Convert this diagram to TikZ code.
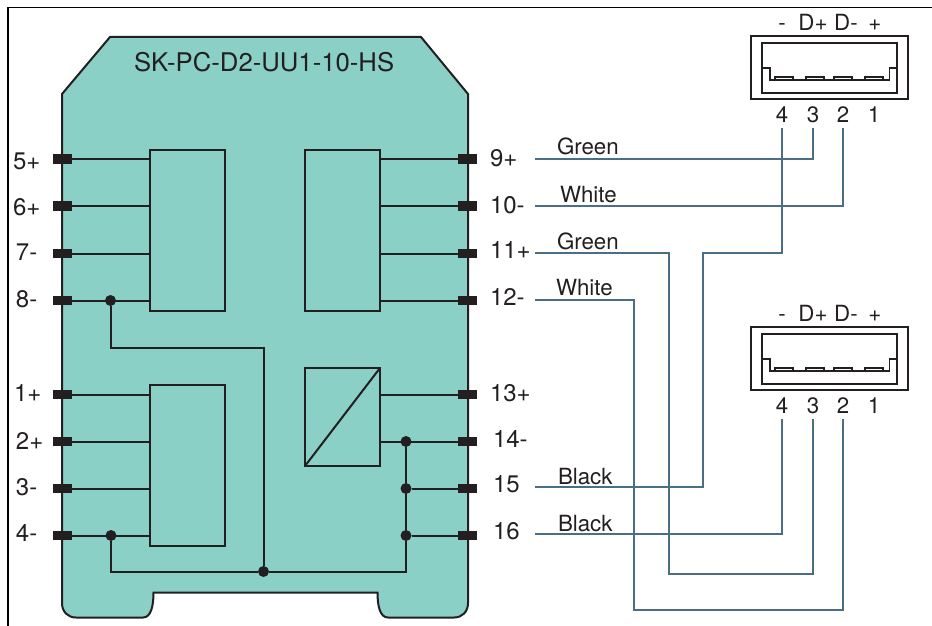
\documentclass[tikz,border=0pt]{standalone}
\usepackage{fontspec}
\setmainfont{TeX Gyre Heros}
\definecolor{ink}{HTML}{231F20}
\definecolor{teal}{HTML}{8AD0C7}
\definecolor{wirec}{HTML}{4A6F85}
\tikzset{
  lbl/.style={anchor=base west,inner sep=0pt,outer sep=0pt,text=ink,font=\fontsize{24}{26}\selectfont},
  ttl/.style={anchor=base west,inner sep=0pt,outer sep=0pt,text=ink,font=\fontsize{25.7}{28}\selectfont},
  wl/.style={anchor=base west,inner sep=0pt,outer sep=0pt,text=ink,font=\fontsize{22.3}{24}\selectfont},
  ul/.style={anchor=base,inner sep=0pt,outer sep=0pt,text=ink,font=\fontsize{22.3}{25}\selectfont},
  pinbox/.style={draw=none,fill=ink,minimum width=19pt,minimum height=9.5pt,inner sep=0pt,outer sep=0pt},
  blockbox/.style={draw=ink,line width=2pt,inner sep=0pt,outer sep=0pt},
  inner/.style={draw=ink,line width=2pt},
  dotn/.style={circle,fill=ink,minimum size=11pt,inner sep=0pt,outer sep=0pt},
  wire/.style={draw=wirec,line width=2pt},
  usbline/.style={draw=ink,line width=1.8pt},
  frameline/.style={draw=black,line width=1.2pt}
}
\begin{document}
\begin{tikzpicture}[x=1pt,y=-1pt]
\useasboundingbox (0,0) rectangle (932,626);
\draw[frameline] (8,626) -- (8,7.5) -- (932,7.5);
% housing
\draw[draw=ink,line width=2pt,fill=teal]
  (110,37) -- (421,37) -- (468,94) -- (468,603)
  .. controls (468,612) and (462,617.5) .. (454,617.5) -- (388,617.5)
  .. controls (380,617.5) and (377.5,606) .. (377.5,592.5) -- (153.5,592.5)
  .. controls (153.5,606) and (151,617.5) .. (143,617.5) -- (76,617.5)
  .. controls (68,617.5) and (62,612) .. (62,603) -- (62,94) -- cycle;
\node[ttl] (title) at (134,71) {SK-PC-D2-UU1-10-HS};
% blocks
\node[blockbox,minimum width=75pt,minimum height=161pt] (bA) at (187,230.5) {};
\node[blockbox,minimum width=75pt,minimum height=161pt] (bB) at (342.5,230.5) {};
\node[blockbox,minimum width=75pt,minimum height=161pt] (bC) at (187,465.5) {};
\node[blockbox,minimum width=75pt,minimum height=98pt] (bD) at (342.5,417) {};
\draw[inner] (bD.south west) -- (bD.north east);
% pins left
\foreach \n/\y in {5/159,6/206,7/253.5,8/300.5,1/394.5,2/441.5,3/488.5,4/535.5}
  \node[pinbox] (p\n) at (62.5,\y) {};
% pins right
\foreach \n/\y in {9/159,10/206,11/253.5,12/300.5,13/394.5,14/441.5,15/488.5,16/535.5}
  \node[pinbox] (p\n) at (467.5,\y) {};
% internal wiring
\foreach \n in {5,6,7,8} \draw[inner] (p\n) -- (p\n -| bA.west);
\foreach \n in {1,2,3,4} \draw[inner] (p\n) -- (p\n -| bC.west);
\foreach \n in {9,10,11,12} \draw[inner] (p\n) -- (p\n -| bB.east);
\foreach \n in {13,14} \draw[inner] (p\n) -- (p\n -| bD.east);
\node[dotn] (d8) at (110.5,300.5) {};
\node[dotn] (d4) at (111,535.5) {};
\node[dotn] (dm) at (263.5,571.5) {};
\node[dotn] (d14) at (406,441.5) {};
\node[dotn] (d15) at (406,488.5) {};
\node[dotn] (d16) at (406,535.5) {};
\coordinate (cm) at (263.5,347.5);
\coordinate (cb) at (406,571.5);
\draw[inner] (d8) |- (cm) -- (dm);
\draw[inner] (d4) |- (dm) -- (cb) -- (d16) -- (d15) -- (d14);
\draw[inner] (d15) -- (p15);
\draw[inner] (d16) -- (p16);
% pin labels
\node[lbl] (l5) at (13,169) {5+};
\node[lbl] (l6) at (13,215.5) {6+};
\node[lbl] (l7) at (16,260.5) {7-};
\node[lbl] (l8) at (16,307.5) {8-};
\node[lbl] (l1) at (14,401) {1+};
\node[lbl] (l2) at (16,449) {2+};
\node[lbl] (l3) at (16,495) {3-};
\node[lbl] (l4) at (16,541) {4-};
\node[lbl] (l9) at (490,166) {9+};
\node[lbl] (l10) at (490,213) {10-};
\node[lbl] (l11) at (490,258) {11+};
\node[lbl] (l12) at (490,305) {12-};
\node[lbl] (l13) at (490,401) {13+};
\node[lbl] (l14) at (493,447) {14-};
\node[lbl] (l15) at (493,492) {15};
\node[lbl] (l16) at (493,539) {16};
% wire labels
\node[wl] (w1) at (557,154) {Green};
\node[wl] (w2) at (560,202) {White};
\node[wl] (w3) at (557,249) {Green};
\node[wl] (w4) at (556,295.5) {White};
\node[wl] (w5) at (558,484) {Black};
\node[wl] (w6) at (558,531) {Black};
% USB connectors
\foreach \u/\o in {a/0,b/291}{
  \begin{scope}[yshift=-\o pt]
  \node[draw=ink,line width=1.8pt,minimum width=157pt,minimum height=63pt,inner sep=0pt,outer sep=0pt] (\u o) at (829.5,67.5) {};
  \node[draw=ink,line width=1.8pt,minimum width=135pt,minimum height=50pt,inner sep=0pt,outer sep=0pt] (\u i) at (829.5,68) {};
  \draw[usbline] (762,68) -- (770,68) -- (770,80) -- (889.5,80) -- (889.5,68) -- (897,68);
  \foreach \x in {775,806,834,865}
    \draw[usbline,line width=1.4pt] (\x,80) -- (\x,77) -- (\x+18,77) -- (\x+18,80);
  \node[ul] at (782,30.5) {-};
  \node[ul] at (813,30.5) {D+};
  \node[ul] at (846,30.5) {D-};
  \node[ul] at (875,30.5) {+};
  \node[ul] (\u4) at (782,122) {4};
  \node[ul] (\u3) at (813,122) {3};
  \node[ul] (\u2) at (843,122) {2};
  \node[ul] (\u1) at (874,122) {1};
  \coordinate (\u t4) at (782,128);
  \coordinate (\u t3) at (813,128);
  \coordinate (\u t2) at (843,128);
  \end{scope}
}
% external wires
\coordinate (s9) at (535,159);
\coordinate (s10) at (535,206);
\coordinate (s11) at (535,252.5);
\coordinate (s12) at (535,299.5);
\coordinate (s15) at (535,487);
\coordinate (s16) at (535,534);
\draw[wire] (s9) -| (at3);
\draw[wire] (s10) -| (at2);
\draw[wire] (s11) -- (669,252.5) -- (669,574) -| (bt3);
\draw[wire] (s12) -- (634,299.5) -- (634,610) -| (bt2);
\draw[wire] (s15) -- (703,487) -- (703,253) -| (at4);
\draw[wire] (s16) -| (bt4);
\end{tikzpicture}
\end{document}
